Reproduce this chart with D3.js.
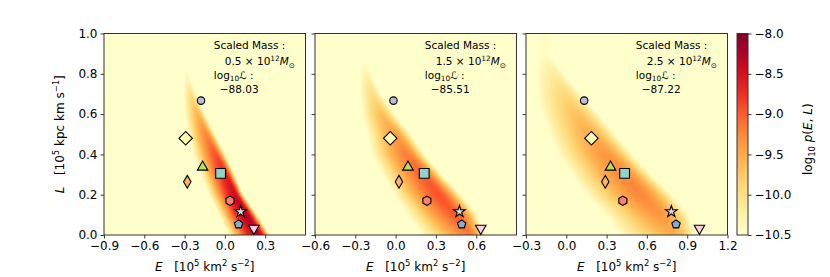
<!DOCTYPE html>
<html>
<head>
<meta charset="utf-8">
<script src="https://cdn.jsdelivr.net/npm/d3@7"></script>
<style>
  body { margin: 0; background: #fff; }
  svg text { font-family: "DejaVu Sans", sans-serif; fill: #000; white-space: pre; }
</style>
</head>
<body>
<svg id="chart" width="830" height="277"></svg>
<script>
// ---- values ----
var massLabels = ["0.5", "1.5", "2.5"];
var logLikeLabels = ["\u221288.03", "\u221285.51", "\u221287.22"];
var xDomains = [[-0.9, 0.6], [-0.6, 0.9], [-0.3, 1.2]];
var xTicks = [[-0.9, -0.6, -0.3, 0, 0.3], [-0.6, -0.3, 0, 0.3, 0.6], [-0.3, 0, 0.3, 0.6, 0.9, 1.2]];
var yTicks = [0, 0.2, 0.4, 0.6, 0.8, 1.0];
var cbTicks = [-8, -8.5, -9, -9.5, -10, -10.5];
var cbDomain = [-10.5, -8];

// the nine objects (same L in every panel, E moves with the mass)
var objShapes = ["circle", "bigDiamond", "triangleUp", "square", "thinDiamond", "hexagon", "star", "pentagon", "triangleDown"];
var objColors = ["#bebada", "#ffffb3", "#b3de69", "#8dd3c7", "#fdb462", "#fb8072", "#d9d9d9", "#80b1d3", "#fccde5"];
var objL = [0.667, 0.48, 0.337, 0.306, 0.264, 0.17, 0.116, 0.053, 0.033];
var objE = [
  [-0.178, -0.292, -0.166, -0.032, -0.28, 0.038, 0.117, 0.102, 0.216],
  [-0.016, -0.04, 0.092, 0.213, 0.025, 0.233, 0.475, 0.492, 0.634],
  [0.133, 0.187, 0.329, 0.434, 0.29, 0.421, 0.782, 0.817, 0.991]
];

var ridgeL = [0, 0.1, 0.2, 0.3, 0.4, 0.5, 0.6, 0.7, 0.8, 0.9];
var ridgeE = [
  [0.245, 0.155, 0.075, 0.005, -0.07, -0.142, -0.204, -0.257, -0.285, -0.30],
  [0.55, 0.44, 0.315, 0.2, 0.08, -0.01, -0.11, -0.175, -0.22, -0.25],
  [0.8, 0.69, 0.545, 0.42, 0.29, 0.175, 0.07, -0.02, -0.1, -0.16]
];
var ridgeRight = [
  [0.09, 0.085, 0.06, 0.068, 0.073, 0.068, 0.055, 0.04, 0.015, 0.01],
  [0.11, 0.17, 0.17, 0.14, 0.135, 0.12, 0.1, 0.065, 0.035, 0.01],
  [0.16, 0.22, 0.24, 0.21, 0.2, 0.19, 0.17, 0.13, 0.08, 0.03]
];
var ridgeLeft = [
  [0.22, 0.2, 0.195, 0.185, 0.165, 0.13, 0.095, 0.05, 0.02, 0.01],
  [0.35, 0.35, 0.33, 0.3, 0.26, 0.2, 0.14, 0.09, 0.05, 0.02],
  [0.4, 0.4, 0.4, 0.38, 0.35, 0.3, 0.25, 0.2, 0.13, 0.06]
];
var ridgePeak = [
  [-8.3, -8.3, -8.45, -8.65, -8.95, -9.25, -9.6, -10.0, -10.45, -10.7],
  [-9.2, -9.0, -8.95, -9.02, -9.2, -9.4, -9.68, -9.98, -10.3, -10.6],
  [-9.55, -9.35, -9.25, -9.25, -9.35, -9.52, -9.7, -9.92, -10.18, -10.45]
];

// ---- layout ----
var svg = d3.select("#chart");
var lefts = [104, 315, 526];
var pw = 201.5, ph = 201.5, plotTop = 33.5;
var cbX = 737, cbW = 11;

var color = d3.scaleSequential(d3.interpolateYlOrRd).domain(cbDomain).clamp(true);
var y = d3.scaleLinear().domain([0, 1]).range([plotTop + ph, plotTop]);

function addParts(text, parts, size) {
  var shift = 0;
  parts.forEach(function (p) {
    var target = p.sup ? -0.4 * size : (p.sub ? 0.25 * size : 0);
    text.append("tspan")
      .attr("dy", target - shift)
      .style("font-size", (p.sup || p.sub) ? (size * 0.7) + "px" : null)
      .style("font-style", p.i ? "italic" : null)
      .text(p.t);
    shift = target;
  });
}

// custom polygon symbols (hexagon pointing up, pentagon)
function polygonType(n, rot) {
  return {
    draw: function (ctx, size) {
      var r = Math.sqrt(size / (n / 2 * Math.sin(2 * Math.PI / n)));
      for (var k = 0; k < n; k++) {
        var a = rot + k * 2 * Math.PI / n;
        var px = r * Math.sin(a), py = -r * Math.cos(a);
        if (k === 0) ctx.moveTo(px, py); else ctx.lineTo(px, py);
      }
      ctx.closePath();
    }
  };
}
var shapeDefs = {
  circle:       { type: d3.symbolCircle, size: 44, rot: 0 },
  bigDiamond:   { type: d3.symbolSquare, size: 90, rot: 45 },
  triangleUp:   { type: d3.symbolTriangle, size: 48, rot: 0 },
  square:       { type: d3.symbolSquare, size: 96, rot: 0 },
  thinDiamond:  { type: d3.symbolDiamond, size: 48, rot: 0 },
  hexagon:      { type: polygonType(6, 0), size: 56, rot: 0 },
  star:         { type: d3.symbolStar, size: 42, rot: 0 },
  pentagon:     { type: polygonType(5, 0), size: 46, rot: 0 },
  triangleDown: { type: d3.symbolTriangle, size: 48, rot: 180 }
};

lefts.forEach(function (left, pi) {
  var x = d3.scaleLinear().domain(xDomains[pi]).range([left, left + pw]);
  var g = svg.append("g");

  // density field
  var bg = cbDomain[0];
  var cE = d3.scaleLinear().domain(ridgeL).range(ridgeE[pi]).clamp(true);
  var cR = d3.scaleLinear().domain(ridgeL).range(ridgeRight[pi]).clamp(true);
  var cLw = d3.scaleLinear().domain(ridgeL).range(ridgeLeft[pi]).clamp(true);
  var cP = d3.scaleLinear().domain(ridgeL).range(ridgePeak[pi]).clamp(true);
  var w = Math.round(pw), h = Math.round(ph);
  var canvas = document.createElement("canvas");
  canvas.width = w; canvas.height = h;
  var ctx = canvas.getContext("2d");
  var img = ctx.createImageData(w, h);
  for (var j = 0; j < h; j++) {
    var L = y.invert(plotTop + (j + 0.5) * ph / h);
    var c = cE(L), wr = cR(L), wl = cLw(L), pk = cP(L);
    var amp = Math.max(pk - bg, 0);
    for (var i = 0; i < w; i++) {
      var E = x.invert(left + (i + 0.5) * pw / w);
      var d = E - c, v;
      if (d >= 0) v = pk - amp * Math.pow(d / wr, 2);
      else v = pk - amp * Math.pow(-d / wl, 1.5);
      var col = d3.rgb(color(v));
      var o = (j * w + i) * 4;
      img.data[o] = col.r; img.data[o + 1] = col.g; img.data[o + 2] = col.b; img.data[o + 3] = 255;
    }
  }
  ctx.putImageData(img, 0, 0);
  g.append("image")
    .attr("x", left).attr("y", plotTop)
    .attr("width", pw).attr("height", ph)
    .attr("preserveAspectRatio", "none")
    .attr("href", canvas.toDataURL());

  // axes
  var xAxis = d3.axisBottom(x).tickValues(xTicks[pi]).tickSize(3.5).tickPadding(3).tickFormat(d3.format(".1f"));
  var gx = g.append("g").attr("transform", "translate(0," + (plotTop + ph) + ")").call(xAxis);
  var yAxis = d3.axisLeft(y).tickValues(yTicks).tickSize(3.5).tickPadding(3)
    .tickFormat(pi === 0 ? d3.format(".1f") : "");
  var gy = g.append("g").attr("transform", "translate(" + left + ",0)").call(yAxis);
  [gx, gy].forEach(function (a) {
    a.select(".domain").remove();
    a.selectAll("text").style("font-size", "12px").style("font-family", "DejaVu Sans");
    a.selectAll("line").attr("stroke", "#222").attr("stroke-width", 0.9);
  });

  g.append("rect")
    .attr("x", left).attr("y", plotTop).attr("width", pw).attr("height", ph)
    .attr("fill", "none").attr("stroke", "#333").attr("stroke-width", 1);

  // markers
  var sym = d3.symbol();
  g.selectAll("path.obj")
    .data(objShapes.map(function (s, k) { return { shape: s, E: objE[pi][k], L: objL[k], color: objColors[k] }; }))
    .join("path")
    .attr("class", "obj")
    .attr("d", function (d) { var sd = shapeDefs[d.shape]; return sym.type(sd.type).size(sd.size)(); })
    .attr("transform", function (d) {
      return "translate(" + x(d.E) + "," + y(d.L) + ") rotate(" + shapeDefs[d.shape].rot + ")";
    })
    .attr("fill", function (d) { return d.color; })
    .attr("stroke", "#000")
    .attr("stroke-width", 1.1);

  // annotation
  var ax = left + 0.545 * pw;
  var fs = 10.5;
  g.append("text").attr("x", ax).attr("y", 49).style("font-size", fs + "px").text("Scaled Mass :");
  var t2 = g.append("text").attr("x", ax + 11).attr("y", 65).style("font-size", fs + "px");
  addParts(t2, [{ t: massLabels[pi] + " \u00d7 10" }, { t: "12", sup: true }, { t: "M", i: true }, { t: "\u2299", sub: true }], fs);
  var t3 = g.append("text").attr("x", ax).attr("y", 78.5).style("font-size", fs + "px");
  addParts(t3, [{ t: "log" }, { t: "10", sub: true }, { t: "\u2112 :" }], fs);
  g.append("text").attr("x", ax + 6).attr("y", 93).style("font-size", fs + "px").text(logLikeLabels[pi]);

  // x label
  var xl = g.append("text").attr("x", left + pw / 2).attr("y", 271).attr("text-anchor", "middle").style("font-size", "12px");
  addParts(xl, [{ t: "E", i: true }, { t: "   [10" }, { t: "5", sup: true }, { t: " km" }, { t: "2", sup: true }, { t: " s" }, { t: "\u22122", sup: true }, { t: "]" }], 12);
});

// y label
var yl = svg.append("text").attr("transform", "translate(64," + (plotTop + ph / 2) + ") rotate(-90)")
  .attr("text-anchor", "middle").style("font-size", "12px");
addParts(yl, [{ t: "L", i: true }, { t: "   [10" }, { t: "5", sup: true }, { t: " kpc km s" }, { t: "\u22121", sup: true }, { t: "]" }], 12);

// colorbar
var cy = d3.scaleLinear().domain(cbDomain).range([plotTop + ph, plotTop]);
var grad = svg.append("defs").append("linearGradient").attr("id", "cbgrad")
  .attr("x1", 0).attr("y1", 1).attr("x2", 0).attr("y2", 0);
d3.range(0, 1.0001, 0.05).forEach(function (t) {
  grad.append("stop").attr("offset", t).attr("stop-color", color(cbDomain[0] + t * (cbDomain[1] - cbDomain[0])));
});
svg.append("rect").attr("x", cbX).attr("y", plotTop).attr("width", cbW).attr("height", ph)
  .attr("fill", "url(#cbgrad)").attr("stroke", "#333").attr("stroke-width", 1);
var cbAxis = d3.axisRight(cy).tickValues(cbTicks).tickSize(3.5).tickPadding(3).tickFormat(d3.format(".1f"));
var gcb = svg.append("g").attr("transform", "translate(" + (cbX + cbW) + ",0)").call(cbAxis);
gcb.select(".domain").remove();
gcb.selectAll("text").style("font-size", "12px").style("font-family", "DejaVu Sans");
gcb.selectAll("line").attr("stroke", "#222").attr("stroke-width", 0.9);

var cl = svg.append("text").attr("transform", "translate(812," + (plotTop + ph / 2 + 5) + ") rotate(-90)")
  .attr("text-anchor", "middle").style("font-size", "12px");
addParts(cl, [{ t: "log" }, { t: "10", sub: true }, { t: " " }, { t: "p", i: true }, { t: "(" }, { t: "E", i: true }, { t: ", " }, { t: "L", i: true }, { t: ")" }], 12);
</script>
</body>
</html>
